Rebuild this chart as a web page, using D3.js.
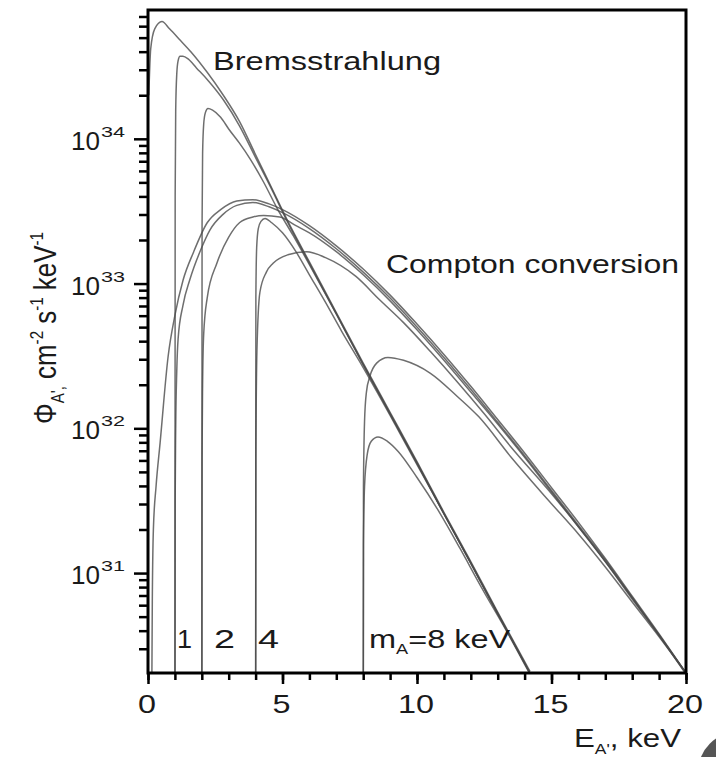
<!DOCTYPE html>
<html><head><meta charset="utf-8">
<script src="https://cdn.jsdelivr.net/npm/d3@7"></script>
<style>
html,body{margin:0;padding:0;background:#fff;}
svg text{font-family:"Liberation Sans",Arial,sans-serif;fill:#1a1a1a;}
</style></head>
<body><svg id="chart" width="716" height="757"></svg>
<script>
// ---- data (E in keV, flux in cm^-2 s^-1 keV^-1) ----
const xMajorTicks = [0, 5, 10, 15, 20];
const xMinorTicks = d3.range(0, 21, 1);
const yMajorTicks = [1e31, 1e32, 1e33, 1e34];
const yTickExponents = ["31", "32", "33", "34"];
const yMinorTicks = [3e30,4e30,5e30,6e30,7e30,8e30,9e30,2e31,3e31,4e31,5e31,6e31,7e31,8e31,9e31,
  2e32,3e32,4e32,5e32,6e32,7e32,8e32,9e32,2e33,3e33,4e33,5e33,6e33,7e33,8e33,9e33,
  2e34,3e34,4e34,5e34,6e34,7e34];
const massLabels = ["1", "2", "4"];

// Bremsstrahlung curves
const bremsE_m0 = [0.03,0.1,0.25,0.52,0.8,1.2,1.6,2.2,2.8,3.4,4.0,4.6,5.2,6.0,7.0,8.0,9.0,10.0,11.0,12.0,13.0,14.2];
const bremsF_m0 = [2.0e34,4.17e34,5.75e34,6.46e34,5.75e34,4.79e34,3.98e34,2.88e34,2.0e34,1.32e34,7.76e33,4.57e33,2.69e33,1.41e33,6.31e32,2.82e32,1.29e32,5.89e31,2.63e31,1.20e31,5.37e30,2.09e30];
const bremsE_m1 = [1.0,1.01,1.03,1.07,1.12,1.19,1.3,1.5,1.8,2.2,2.8,3.4,4.0,4.6,5.2,6.0,7.0,8.0,9.0,10.0,11.0,12.0,13.0,14.2];
const bremsF_m1 = [3.16e29,3.98e33,1.58e34,2.82e34,3.47e34,3.72e34,3.72e34,3.55e34,3.09e34,2.57e34,1.86e34,1.23e34,7.41e33,4.47e33,2.63e33,1.38e33,6.17e32,2.75e32,1.26e32,5.75e31,2.57e31,1.17e31,5.25e30,2.04e30];
const bremsE_m2 = [2.0,2.01,2.03,2.07,2.13,2.23,2.4,2.7,3.0,3.4,3.8,4.3,4.8,5.4,6.0,7.0,8.0,9.0,10.0,11.0,12.0,13.0,14.2];
const bremsF_m2 = [3.16e29,2.51e33,7.94e33,1.26e34,1.51e34,1.62e34,1.58e34,1.41e34,1.17e34,9.33e33,7.24e33,5.01e33,3.31e33,2.14e33,1.35e33,6.17e32,2.75e32,1.26e32,5.75e31,2.57e31,1.17e31,5.25e30,2.04e30];
const bremsE_m4 = [4.0,4.01,4.04,4.1,4.2,4.35,4.6,5.0,5.5,6.0,6.6,7.2,8.0,9.0,10.0,11.0,12.0,13.0,14.2];
const bremsF_m4 = [3.16e29,7.94e32,1.78e33,2.40e33,2.69e33,2.82e33,2.63e33,2.24e33,1.66e33,1.15e33,7.41e32,4.68e32,2.63e32,1.23e32,5.62e31,2.57e31,1.17e31,5.25e30,2.04e30];
const bremsE_m8 = [8.0,8.01,8.05,8.15,8.3,8.55,8.9,9.3,10.0,10.8,11.6,12.4,13.3,14.2];
const bremsF_m8 = [3.16e29,1.58e31,3.98e31,6.61e31,8.13e31,8.71e31,8.13e31,6.92e31,4.57e31,2.69e31,1.48e31,7.94e30,4.07e30,2.0e30];

// Compton conversion curves
const comptE_m0 = [0.13,0.16,0.2,0.3,0.45,0.75,1.0,1.3,1.7,2.2,2.7,3.3,3.9,4.5,5.0,6.0,7.0,8.0,9.0,10.0,11.0,12.0,13.0,14.0,15.0,16.0,17.0,18.0,19.0,20.0];
const comptF_m0 = [6.31e29,6.31e30,2.0e31,3.98e31,7.94e31,3.16e32,6.03e32,1.05e33,1.66e33,2.63e33,3.24e33,3.72e33,3.80e33,3.55e33,3.24e33,2.51e33,1.82e33,1.26e33,8.32e32,5.25e32,3.24e32,1.95e32,1.15e32,6.76e31,3.89e31,2.24e31,1.26e31,6.92e30,3.80e30,2.04e30];
const comptE_m1 = [1.0,1.01,1.03,1.07,1.12,1.3,1.56,2.0,2.3,2.8,3.3,3.9,4.5,5.0,6.0,7.0,8.0,9.0,10.0,11.0,12.0,13.0,14.0,15.0,16.0,17.0,18.0,19.0,20.0];
const comptF_m1 = [3.16e29,3.16e31,1.0e32,2.51e32,4.17e32,7.08e32,1.07e33,1.78e33,2.34e33,3.02e33,3.47e33,3.63e33,3.39e33,3.09e33,2.40e33,1.74e33,1.20e33,7.94e32,5.01e32,3.09e32,1.86e32,1.10e32,6.46e31,3.72e31,2.14e31,1.23e31,6.76e30,3.72e30,2.04e30];
const comptE_m2 = [2.0,2.01,2.03,2.07,2.2,2.56,3.0,3.4,3.9,4.3,4.9,5.5,6.0,7.0,8.0,9.0,10.0,11.0,12.0,13.0,14.0,15.0,16.0,17.0,18.0,19.0,20.0];
const comptF_m2 = [3.16e29,6.31e31,2.0e32,4.47e32,7.94e32,1.38e33,2.09e33,2.63e33,2.88e33,2.95e33,2.88e33,2.51e33,2.24e33,1.66e33,1.15e33,7.59e32,4.79e32,2.95e32,1.78e32,1.07e32,6.31e31,3.63e31,2.09e31,1.20e31,6.61e30,3.72e30,2.04e30];
const comptE_m4 = [4.0,4.01,4.05,4.16,4.4,4.65,5.2,5.9,6.6,7.73,8.6,9.5,10.5,11.5,12.5,13.5,14.9,16.0,17.0,18.0,19.0,20.0];
const comptF_m4 = [3.16e29,6.31e31,3.47e32,8.71e32,1.20e33,1.38e33,1.58e33,1.66e33,1.51e33,1.12e33,7.76e32,5.37e32,3.39e32,2.09e32,1.26e32,7.41e31,3.72e31,2.09e31,1.20e31,6.76e30,3.72e30,2.0e30];
const comptE_m8 = [8.0,8.01,8.05,8.12,8.25,8.5,8.92,9.5,10.5,11.5,12.3,13.5,14.9,16.0,17.0,18.0,19.0,20.0];
const comptF_m8 = [3.16e29,3.98e31,1.12e32,1.78e32,2.29e32,2.82e32,3.09e32,2.95e32,2.40e32,1.66e32,1.20e32,6.31e31,3.16e31,1.86e31,1.10e31,6.31e30,3.63e30,2.04e30];

const curves = [
  [bremsE_m0, bremsF_m0], [bremsE_m1, bremsF_m1], [bremsE_m2, bremsF_m2],
  [bremsE_m4, bremsF_m4], [bremsE_m8, bremsF_m8],
  [comptE_m0, comptF_m0], [comptE_m1, comptF_m1], [comptE_m2, comptF_m2],
  [comptE_m4, comptF_m4], [comptE_m8, comptF_m8]
];

// ---- layout ----
const svg = d3.select("#chart");
const L = 148, R = 686, T = 10, B = 673;
const x = d3.scaleLinear().domain([0, 20]).range([L, R]);
const y = d3.scaleLog().domain([2.04e30, 7.76e34]).range([B, T]);

svg.append("defs").append("clipPath").attr("id", "plotclip")
  .append("rect").attr("x", L).attr("y", T).attr("width", R - L).attr("height", B - T);

// curves
const line = d3.line().x(d => x(d[0])).y(d => y(d[1])).curve(d3.curveMonotoneX);
const gCurves = svg.append("g").attr("clip-path", "url(#plotclip)");
curves.forEach(([es, fs]) => {
  gCurves.append("path")
    .datum(es.map((e, i) => [e, fs[i]]))
    .attr("d", line)
    .attr("fill", "none")
    .attr("stroke", "#4a4a4a")
    .attr("stroke-opacity", 0.8)
    .attr("stroke-width", 1.5);
});

// axes ticks
function styleAxis(g, w) {
  g.select(".domain").remove();
  g.selectAll(".tick line").attr("stroke", "#000").attr("stroke-width", w);
  g.selectAll(".tick text").remove();
}
svg.append("g").attr("transform", `translate(${L},0)`)
  .call(d3.axisLeft(y).tickValues(yMinorTicks).tickSize(9).tickFormat(""))
  .call(g => styleAxis(g, 2.5));
svg.append("g").attr("transform", `translate(${L},0)`)
  .call(d3.axisLeft(y).tickValues(yMajorTicks).tickSize(14).tickFormat(""))
  .call(g => styleAxis(g, 2.5));
svg.append("g").attr("transform", `translate(0,${B})`)
  .call(d3.axisBottom(x).tickValues(xMinorTicks).tickSize(7).tickFormat(""))
  .call(g => styleAxis(g, 2.5));
svg.append("g").attr("transform", `translate(0,${B})`)
  .call(d3.axisBottom(x).tickValues(xMajorTicks).tickSize(11).tickFormat(""))
  .call(g => styleAxis(g, 2.5));

// frame
svg.append("rect").attr("x", L).attr("y", T).attr("width", R - L).attr("height", B - T)
  .attr("fill", "none").attr("stroke", "#000").attr("stroke-width", 3);

// y tick labels
yMajorTicks.forEach((v, i) => {
  const ty = y(v);
  svg.append("text").attr("x", 100).attr("y", ty + 11).attr("text-anchor", "end")
    .attr("font-size", 25).attr("textLength", 29).attr("lengthAdjust", "spacingAndGlyphs").text("10");
  svg.append("text").attr("x", 101).attr("y", ty - 2).attr("font-size", 14)
    .attr("textLength", 24).attr("lengthAdjust", "spacingAndGlyphs").text(yTickExponents[i]);
});

// x tick labels
xMajorTicks.forEach(v => {
  const s = String(v);
  const w = s.length === 1 ? 18 : 36;
  svg.append("text").attr("x", x(v) - w / 2 - 1).attr("y", 713)
    .attr("font-size", 25).attr("textLength", w).attr("lengthAdjust", "spacingAndGlyphs").text(s);
});

// annotations
svg.append("text").attr("x", 213).attr("y", 70).attr("font-size", 25)
  .attr("textLength", 228).attr("lengthAdjust", "spacingAndGlyphs").text("Bremsstrahlung");
svg.append("text").attr("x", 386).attr("y", 273).attr("font-size", 25)
  .attr("textLength", 293).attr("lengthAdjust", "spacingAndGlyphs").text("Compton conversion");

const massPos = [[177, 15], [214, 21], [258, 21]];
massLabels.forEach((t, i) => {
  svg.append("text").attr("x", massPos[i][0]).attr("y", 648).attr("font-size", 25)
    .attr("textLength", massPos[i][1]).attr("lengthAdjust", "spacingAndGlyphs").text(t);
});

// m_A = 8 keV
const mt = svg.append("text").attr("transform", "translate(369,648) scale(1.3,1)").attr("font-size", 25);
mt.append("tspan").text("m");
mt.append("tspan").attr("font-size", 14).attr("dy", 6).text("A");
mt.append("tspan").attr("dy", -6).text("=8 keV");

// x axis title
const xt = svg.append("text").attr("transform", "translate(574,747) scale(1.25,1)").attr("font-size", 25);
xt.append("tspan").text("E");
xt.append("tspan").attr("font-size", 14).attr("dy", 7).text("A'");
xt.append("tspan").attr("dy", -7).text(", keV");

// y axis title (rotated)
const yt = svg.append("text").attr("transform", "translate(56,424) rotate(-90) scale(1.08,1.3)").attr("font-size", 24);
yt.append("tspan").text("Φ");
yt.append("tspan").attr("font-size", 14).attr("dy", 6).text("A',");
yt.append("tspan").attr("dy", -6).text(" cm");
yt.append("tspan").attr("font-size", 14).attr("dy", -10).text("-2");
yt.append("tspan").attr("dy", 10).text(" s");
yt.append("tspan").attr("font-size", 14).attr("dy", -10).text("-1");
yt.append("tspan").attr("dy", 10).text(" keV");
yt.append("tspan").attr("font-size", 14).attr("dy", -10).text("-1");

// gray corner artifact
svg.append("circle").attr("cx", 738).attr("cy", 772).attr("r", 40).attr("fill", "#555");
</script></body></html>
